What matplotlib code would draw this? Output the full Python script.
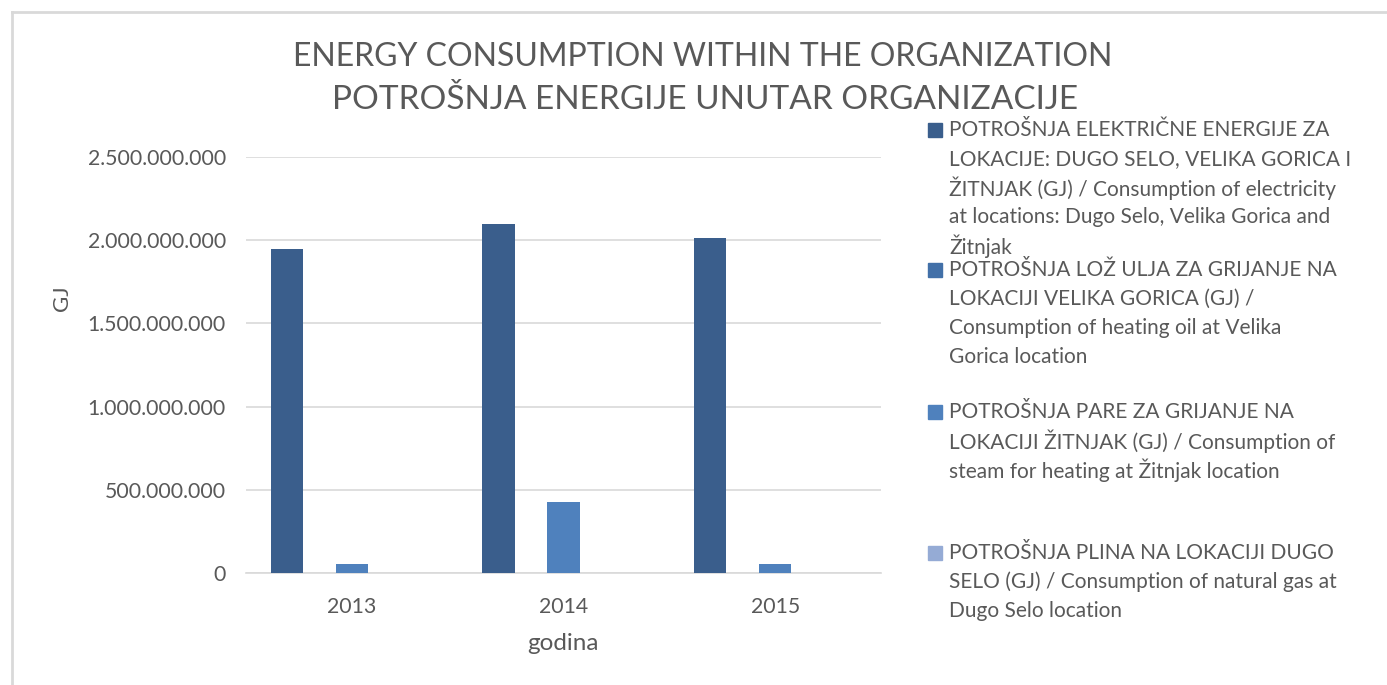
import matplotlib

matplotlib.use("Agg")
import matplotlib.pyplot as plt
from matplotlib.patches import Rectangle
from matplotlib.lines import Line2D
from matplotlib.ticker import FuncFormatter

plt.rcParams["font.family"] = ["Lato", "DejaVu Sans"]

TEXT = "#595959"
GRID = "#D9D9D9"

years = ["2013", "2014", "2015"]
electricity = [1.947e9, 2.097e9, 2.013e9]
heating_oil = [0, 0, 0]
steam = [0.052e9, 0.428e9, 0.052e9]
gas = [0, 0, 0]

series = [electricity, heating_oil, steam, gas]
colors = ["#3A5E8C", "#4270A8", "#4F81BD", "#95ABD5"]
labels = [
    "POTROŠNJA ELEKTRIČNE ENERGIJE ZA\nLOKACIJE: DUGO SELO, VELIKA GORICA I\n"
    "ŽITNJAK (GJ) / Consumption of electricity\nat locations: Dugo Selo, Velika Gorica and\nŽitnjak",
    "POTROŠNJA LOŽ ULJA ZA GRIJANJE NA\nLOKACIJI VELIKA GORICA (GJ) /\n"
    "Consumption of heating oil at Velika\nGorica location",
    "POTROŠNJA PARE ZA GRIJANJE NA\nLOKACIJI ŽITNJAK (GJ) / Consumption of\n"
    "steam for heating at Žitnjak location",
    "POTROŠNJA PLINA NA LOKACIJI DUGO\nSELO (GJ) / Consumption of natural gas at\n"
    "Dugo Selo location",
]

W, H = 1387, 685
fig = plt.figure(figsize=(W / 100, H / 100), dpi=100)
ax = fig.add_axes([246 / W, 1 - 573 / H, 635 / W, 416 / H])

# the source chart leaves room for five bar slots per year, steam sits on the tick
width = 0.1535
x = list(range(len(years)))
for i, (vals, col) in enumerate(zip(series, colors)):
    off = (i - 2) * width
    ax.bar([v + off for v in x], vals, width=width, color=col, zorder=3)

ax.set_xlim(-0.5, 2.5)
ax.set_ylim(0, 2.5e9)
ax.set_yticks([0, 5e8, 1e9, 1.5e9, 2e9, 2.5e9])
ax.yaxis.set_major_formatter(FuncFormatter(lambda v, p: f"{int(v):,}".replace(",", ".")))
ax.set_xticks(x)
ax.set_xticklabels(years)
ax.tick_params(axis="both", length=0, labelsize=15.3, labelcolor=TEXT)
ax.tick_params(axis="x", pad=17)
ax.tick_params(axis="y", pad=14.5)
ax.grid(axis="y", color=GRID, lw=1.2, zorder=0)
for s in ["top", "right", "left"]:
    ax.spines[s].set_visible(False)
ax.spines["bottom"].set_color(GRID)
ax.spines["bottom"].set_linewidth(1.2)

fig.text(563 / W, 1 - 643 / H, "godina", ha="center", va="center", fontsize=17.5, color=TEXT)
fig.text(62 / W, 1 - 298 / H, "GJ", ha="center", va="center", rotation=90, fontsize=16, color=TEXT)

fig.text(703 / W, 1 - 57 / H, "ENERGY CONSUMPTION WITHIN THE ORGANIZATION",
         ha="center", va="center", fontsize=23, color=TEXT)
fig.text(705 / W, 1 - 100 / H, "POTROŠNJA ENERGIJE UNUTAR ORGANIZACIJE",
         ha="center", va="center", fontsize=24, color=TEXT)

# legend drawn by hand to mimic the Excel layout
entry_y = [130, 270, 412, 553]
for yc, col, lab in zip(entry_y, colors, labels):
    fig.patches.append(Rectangle((928 / W, 1 - (yc + 7) / H), 14 / W, 14 / H,
                                 transform=fig.transFigure, color=col))
    for j, line in enumerate(lab.split("\n")):
        fig.text(949 / W, 1 - (yc + j * 29) / H, line, ha="left", va="center",
                 fontsize=15, color=TEXT)

# chart frame
fig.add_artist(Line2D([12 / W, 1], [1 - 12 / H, 1 - 12 / H], color=GRID, lw=2))
fig.add_artist(Line2D([12 / W, 12 / W], [0, 1 - 12 / H], color=GRID, lw=2))

fig.savefig("out.png", dpi=100)
